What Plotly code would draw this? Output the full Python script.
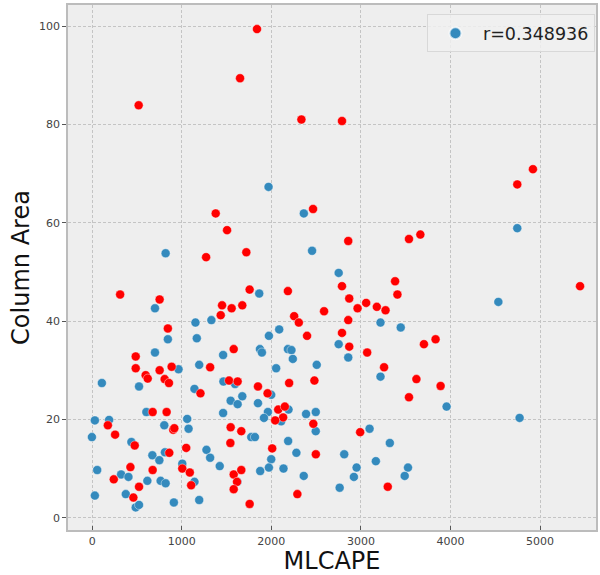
import plotly.graph_objects as go

# Blue series (MLCAPE, Column Area)
blue_x = [1969, 2363, 820, 2455, 4746,
          701, 1865, 1153, 1331, 2088, 1973, 845, 1168, 701, 1462, 1873, 1895, 2185, 2225, 2240,
          964, 1195, 2054, 2507, 108, 523, 1465, 1595, 1142, 1999, 1546, 1624, 1676, 1851, 1462,
          605, 2192, 1962, 2388, 2496, 1918, 2110, 30, 189, 805, 1061, 1076, 2496, -3, 438, 1776,
          1817, 2188, 672, 750, 812, 1276, 1317, 2280, 1999, 56, 323, 405, 616, 764, 820, 1006,
          1142, 1424, 1622, 1876, 1973, 2136, 2362, 30, 375, 486, 523, 912, 1195,
          2752, 3219, 3445, 2752, 2859, 3219, 3957, 4535, 4772, 3097, 3323, 2814, 3167, 2952,
          3526, 2922, 3489, 2763]
blue_y = [67.3, 61.9, 53.8, 54.3, 58.9,
          42.6, 45.6, 39.7, 40.2, 38.3, 37.0, 36.3, 36.5, 33.6, 33.1, 34.3, 33.6, 34.3, 34.1, 32.3,
          30.2, 31.1, 30.4, 31.1, 27.4, 26.7, 27.7, 27.2, 26.2, 25.0, 23.8, 23.1, 24.7, 23.3, 21.3,
          21.5, 22.0, 21.5, 21.1, 21.5, 20.3, 19.6, 19.8, 19.9, 18.8, 20.1, 18.1, 17.6, 16.4, 15.4, 16.4,
          16.4, 15.6, 12.7, 11.7, 13.3, 13.8, 12.2, 13.2, 11.9, 9.7, 8.8, 8.3, 7.5, 7.5, 7.0, 11.0,
          7.3, 10.5, 7.3, 9.5, 10.2, 10.0, 8.5, 4.5, 4.8, 2.1, 2.6, 3.1, 3.6,
          49.8, 39.7, 38.7, 35.3, 32.6, 28.7, 22.6, 43.9, 20.3, 18.1, 15.2, 12.9, 11.5, 10.2,
          10.2, 8.3, 8.5, 6.1]

# Red series
red_x = [1840, 1651, 519, 2336, 2789, 4921, 4746, 1379, 2466, 1506, 1272, 1721, 2859, 3537, 3664,
         312, 753, 1758, 2185, 2589, 1450, 1557, 1676, 1435, 2255, 2307, 2399, 845, 486, 1580,
         486, 753, 887, 1317, 597, 620, 809, 857, 1528, 1624, 1209, 1851, 2199, 2481, 1958,
         675, 831, 2077, 2151, 2132, 2043, 175, 905, 917, 256, 1546, 1665, 2469, 475, 1543,
         2010, 861, 1050, 2497, 427, 675, 241, 1006, 1090, 1105, 1580, 1665, 1617, 1580, 460,
         523, 1758, 2291,
         2789, 3382, 3408, 2870, 2963, 3059, 3178, 3275, 2859, 2789, 2870, 3070, 3704, 3834,
         3259, 3620, 3890, 3537, 5447, 2992, 3300]
red_y = [99.4, 89.4, 83.9, 81.0, 80.7, 70.9, 67.8, 61.9, 62.8, 58.5, 53.0, 54.0, 56.3, 56.7, 57.6,
         45.4, 44.4, 46.4, 46.1, 42.0, 43.2, 42.6, 43.2, 41.2, 41.0, 39.7, 37.0, 38.5, 32.8, 34.3,
         30.4, 30.0, 30.7, 30.6, 29.0, 28.3, 28.2, 27.4, 27.9, 27.7, 25.3, 26.7, 27.4, 27.9, 25.3,
         21.5, 21.5, 22.0, 22.6, 20.4, 19.8, 18.8, 17.9, 18.2, 16.9, 18.4, 17.6, 19.1, 14.7, 15.2,
         14.1, 13.2, 14.2, 12.9, 10.3, 9.7, 7.8, 10.0, 9.2, 6.6, 8.8, 9.7, 7.3, 5.8, 4.1,
         6.3, 2.8, 4.8,
         47.1, 48.1, 45.4, 44.6, 42.6, 43.7, 42.9, 42.2, 40.2, 37.6, 34.8, 33.6, 35.3, 36.3,
         30.6, 28.2, 26.8, 24.5, 47.1, 17.4, 6.3]

x_ticks = [0, 1000, 2000, 3000, 4000, 5000]
y_ticks = [0, 20, 40, 60, 80, 100]
legend_label = "r=0.348936"

FONT = "DejaVu Sans"
mk_line = dict(width=0.6, color="rgba(255,255,255,0.7)")

fig = go.Figure()
fig.add_trace(go.Scatter(x=blue_x, y=blue_y, mode="markers", name=legend_label,
                         marker=dict(color="#348ABD", size=9, line=mk_line)))
fig.add_trace(go.Scatter(x=red_x, y=red_y, mode="markers", showlegend=False,
                         marker=dict(color="#FF0000", size=9, line=mk_line)))

axis_common = dict(showgrid=True, gridcolor="#c4c4c4", griddash="3px,2px", gridwidth=0.8,
                   zeroline=False, showline=True, linecolor="#bcbcbc", linewidth=1.5,
                   mirror=True, ticklen=4, tickcolor="#555555",
                   tickfont=dict(family=FONT, size=11, color="#444444"))

fig.update_layout(
    width=600, height=575,
    margin=dict(l=68, r=2, t=5, b=45),
    paper_bgcolor="white", plot_bgcolor="#eeeeee",
    font=dict(family=FONT),
    xaxis=dict(range=[-270, 5625], tickvals=x_ticks, ticks="inside",
               title=dict(text="MLCAPE", font=dict(family=FONT, size=24, color="#111111"), standoff=3),
               **axis_common),
    yaxis=dict(range=[-2.5, 104.3], tickvals=y_ticks, ticks="outside",
               title=dict(text="Column Area", font=dict(family=FONT, size=24, color="#111111"), standoff=3),
               **axis_common),
    legend=dict(x=0.998, y=0.982, xanchor="right", yanchor="top",
                bgcolor="rgba(240,240,240,0.85)", bordercolor="#d8d8d8", borderwidth=1,
                font=dict(family=FONT, size=17.5, color="#222222"),
                itemsizing="constant", itemwidth=45),
)

fig.write_html("out.html", config={"displayModeBar": False},
               post_script="document.body.style.margin='0';document.body.style.overflow='hidden';")
